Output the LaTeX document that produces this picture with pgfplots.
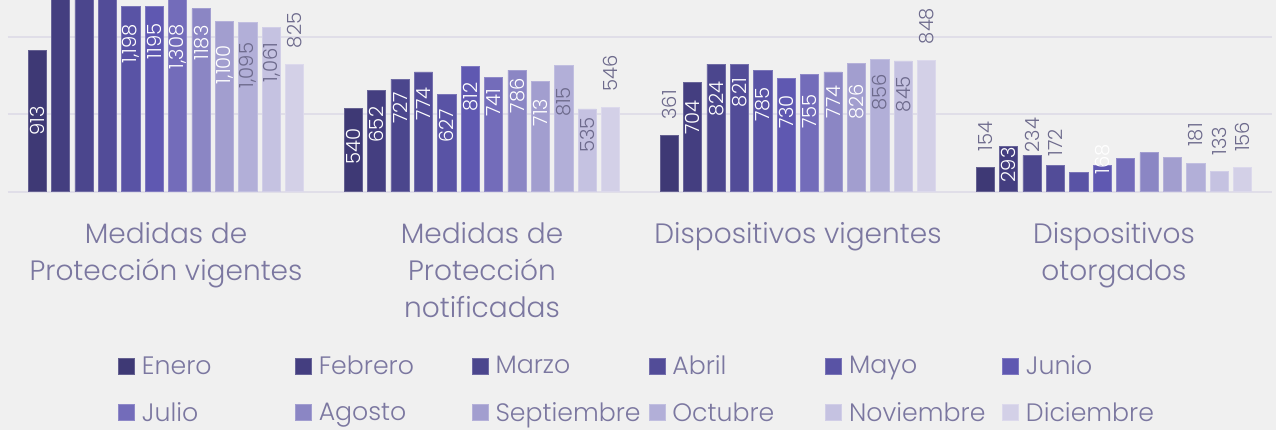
\documentclass[border=0pt]{standalone}
\usepackage{fontspec}
\setmainfont{Poppins}[UprightFont={* Light}]
\usepackage{pgfplots}
\usepackage{pgfplotstable}
\pgfplotsset{compat=1.18}
\definecolor{bgc}{HTML}{F0F0F0}
\definecolor{gridc}{HTML}{E0DEE8}
\definecolor{textc}{HTML}{7B77A0}
\definecolor{darklab}{HTML}{6D6A8C}
\definecolor{c1}{HTML}{3E3975}
\definecolor{c2}{HTML}{443E80}
\definecolor{c3}{HTML}{4B468D}
\definecolor{c4}{HTML}{524C98}
\definecolor{c5}{HTML}{5953A5}
\definecolor{c6}{HTML}{5F58B1}
\definecolor{c7}{HTML}{736CBA}
\definecolor{c8}{HTML}{8B86C4}
\definecolor{c9}{HTML}{A29ECF}
\definecolor{c10}{HTML}{B2AFD8}
\definecolor{c11}{HTML}{C5C2E1}
\definecolor{c12}{HTML}{D3D0E7}
\pgfplotstableread{
g  m1   m2   m3   m4   m5   m6   m7   m8   m9   m10  m11  m12
0  913  1290 1330 1310 1198 1195 1308 1183 1100 1095 1061 825
1  540  652  727  774  627  812  741  786  713  815  535  546
2  361  704  824  821  785  730  755  774  826  856  845  848
3  154  293  234  172  125  168  216  252  220  181  133  156
}\datatable
\pgfplotstableread{
g k ly lab
0 1 457 913
0 2 1359 1,389
0 5 955 1,198
0 6 971 1195
0 7 935 1,308
0 8 961 1183
0 9 821 1,100
1 1 291 540
1 2 434 652
1 3 541 727
1 4 567 774
1 5 426 627
1 6 612 812
1 7 577 741
1 8 619 786
1 9 512 713
2 2 480 704
2 3 599 824
2 4 641 821
2 5 564 785
2 6 515 730
2 7 517 755
2 8 582 774
2 9 582 826
3 2 173 293
3 6 210 168
}\whitelabels
\pgfplotstableread{
g k ly lab
0 10 816 1,095
0 11 835 1,061
0 12 1042 825
1 10 580 815
1 11 366 535
1 12 763 546
2 1 562 361
2 10 641 856
2 11 631 845
2 12 1071 848
3 1 355 154
3 3 366 234
3 4 318 172
3 10 366 181
3 11 327 133
3 12 354 156
}\darklabels
\newcommand{\catfont}{\fontsize{28}{37}\selectfont}
\newcommand{\legfont}{\fontsize{25.2}{28}\selectfont}
\newcommand{\labfont}{\fontsize{19.5}{20}\selectfont}
\begin{document}
\begin{tikzpicture}
\useasboundingbox (0,0) rectangle (1276pt,430pt);
\fill[bgc] (0,0) rectangle (1276pt,430pt);
\begin{axis}[
  at={(8pt,238.3pt)}, anchor=south west,
  scale only axis, width=1264pt, height=191.7pt,
  xmin=-0.5, xmax=3.5, ymin=0, ymax=1239,
  axis line style={draw=none},
  ytick={0,500,1000}, yticklabels={},
  ymajorgrids, major grid style={gridc, line width=2pt},
  major tick length=0pt,
  xtick={0,1,2,3},
  xticklabels={{Medidas de\\Protección vigentes},{Medidas de\\Protección\\notificadas},{Dispositivos vigentes},{Dispositivos\\otorgados}},
  xticklabel style={align=center, font=\catfont, text=textc, yshift=-27pt},
  legend columns=6,
  legend style={at={(axis description cs:0.0870,-0.855)}, anchor=north west,
    draw=none, fill=none, font=\legfont, text=textc, inner sep=0pt,
    nodes={inner sep=0pt},
    row sep=26pt,
    /tikz/every odd column/.append style={column sep=7pt},
    /tikz/every even column/.append style={column sep=0pt}},
  legend cell align=left,
  legend image code/.code={\fill[#1] (0pt,-8pt) rectangle (16pt,8pt);},
  every axis plot/.append style={ybar, bar width=18.3pt, bar shift=0pt, line width=0.8pt},
]
\addplot[fill=c1, draw=c1!80!white] table[x expr=\thisrow{g}+(1-6.5)*0.07405, y=m1] {\datatable};
\addlegendentry{\makebox[153pt][l]{Enero}}
\addplot[fill=c2, draw=c2!80!white] table[x expr=\thisrow{g}+(2-6.5)*0.07405, y=m2] {\datatable};
\addlegendentry{\makebox[153pt][l]{Febrero}}
\addplot[fill=c3, draw=c3!80!white] table[x expr=\thisrow{g}+(3-6.5)*0.07405, y=m3] {\datatable};
\addlegendentry{\makebox[153pt][l]{Marzo}}
\addplot[fill=c4, draw=c4!80!white] table[x expr=\thisrow{g}+(4-6.5)*0.07405, y=m4] {\datatable};
\addlegendentry{\makebox[153pt][l]{Abril}}
\addplot[fill=c5, draw=c5!80!white] table[x expr=\thisrow{g}+(5-6.5)*0.07405, y=m5] {\datatable};
\addlegendentry{\makebox[153pt][l]{Mayo}}
\addplot[fill=c6, draw=c6!80!white] table[x expr=\thisrow{g}+(6-6.5)*0.07405, y=m6] {\datatable};
\addlegendentry{\makebox[153pt][l]{Junio}}
\addplot[fill=c7, draw=c7!80!white] table[x expr=\thisrow{g}+(7-6.5)*0.07405, y=m7] {\datatable};
\addlegendentry{\makebox[153pt][l]{Julio}}
\addplot[fill=c8, draw=c8!80!white] table[x expr=\thisrow{g}+(8-6.5)*0.07405, y=m8] {\datatable};
\addlegendentry{\makebox[153pt][l]{Agosto}}
\addplot[fill=c9, draw=c9!80!white] table[x expr=\thisrow{g}+(9-6.5)*0.07405, y=m9] {\datatable};
\addlegendentry{\makebox[153pt][l]{Septiembre}}
\addplot[fill=c10, draw=c10!80!white] table[x expr=\thisrow{g}+(10-6.5)*0.07405, y=m10] {\datatable};
\addlegendentry{\makebox[153pt][l]{Octubre}}
\addplot[fill=c11, draw=c11!80!white] table[x expr=\thisrow{g}+(11-6.5)*0.07405, y=m11] {\datatable};
\addlegendentry{\makebox[153pt][l]{Noviembre}}
\addplot[fill=c12, draw=c12!80!white] table[x expr=\thisrow{g}+(12-6.5)*0.07405, y=m12] {\datatable};
\addlegendentry{\makebox[153pt][l]{Diciembre}}
\addplot[forget plot, only marks, mark=*, mark size=0pt, mark options={draw=none, fill=none},
  point meta=explicit symbolic, nodes near coords={\pgfplotspointmeta},
  every node near coord/.append style={rotate=90, anchor=center, font=\labfont, text=white}]
  table[x expr=\thisrow{g}+(\thisrow{k}-6.5)*0.07405, y=ly, meta=lab] {\whitelabels};
\addplot[forget plot, only marks, mark=*, mark size=0pt, mark options={draw=none, fill=none},
  point meta=explicit symbolic, nodes near coords={\pgfplotspointmeta},
  every node near coord/.append style={rotate=90, anchor=center, font=\labfont, text=darklab}]
  table[x expr=\thisrow{g}+(\thisrow{k}-6.5)*0.07405, y=ly, meta=lab] {\darklabels};
\end{axis}
\end{tikzpicture}
\end{document}
